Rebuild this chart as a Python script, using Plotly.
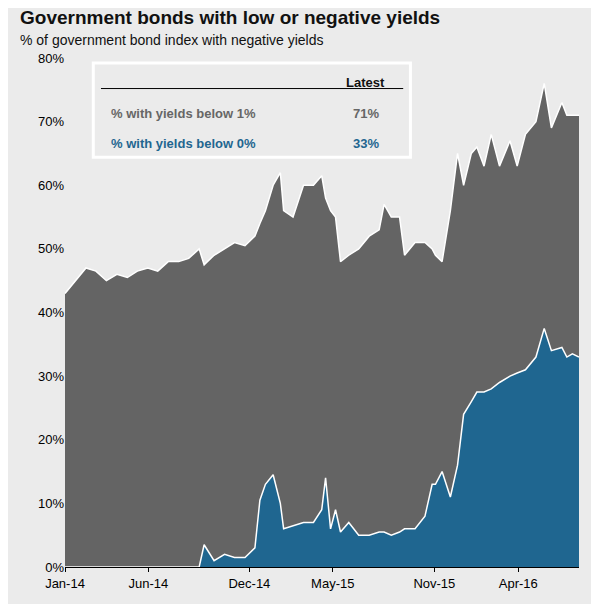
import plotly.graph_objects as go

dates = ["2014-01-01","2014-01-20","2014-02-08","2014-02-26","2014-03-17","2014-04-05","2014-04-24",
         "2014-05-12","2014-05-31","2014-06-18","2014-07-07","2014-07-26","2014-08-13","2014-09-01",
         "2014-09-10","2014-09-28","2014-10-17","2014-11-04","2014-11-23","2014-12-11","2014-12-20",
         "2014-12-30","2015-01-13","2015-01-26","2015-02-01","2015-02-18","2015-03-09","2015-03-27",
         "2015-04-11","2015-04-18","2015-04-27","2015-05-06","2015-05-15","2015-05-30","2015-06-17",
         "2015-07-06","2015-07-24","2015-08-02","2015-08-15","2015-08-30","2015-09-08","2015-09-27",
         "2015-10-15","2015-10-28","2015-11-03","2015-11-15","2015-11-30","2015-12-13","2015-12-24",
         "2016-01-07","2016-01-17","2016-01-30","2016-02-12","2016-02-27","2016-03-17","2016-03-30",
         "2016-04-14","2016-05-03","2016-05-18","2016-05-31","2016-06-19","2016-06-28","2016-07-08",
         "2016-07-20"]
below_1 = [43,45,47,46.5,45,46,45.5,46.5,47,46.5,48,48,48.5,50,47.5,49,50,51,50.5,52,54,56,60,62,56,55,
           60,60,61.5,58,56,55,48,49,50,52,53,57,55,55,49,51,51,50,49,48,56,65,60,65,66,63,68,63,67,63,
           68,70,76,69,73,71,71,71]
below_0 = [0,0,0,0,0,0,0,0,0,0,0,0,0,0,3.5,1,2,1.5,1.5,3,10.5,13,14.5,10,6,6.5,7,7,9,14,6,9,5.5,7,5,5,
           5.5,5.5,5,5.5,6,6,8,13,13,15,11,16,24,26,27.5,27.5,28,29,30,30.5,31,33,37.5,34,34.5,33,33.5,33]
tick_dates = ["2014-01-01","2014-06-01","2014-12-01","2015-05-01","2015-11-01","2016-04-01"]
tick_text = ["Jan-14","Jun-14","Dec-14","May-15","Nov-15","Apr-16"]
y_ticks = [0,10,20,30,40,50,60,70,80]

bg = "#ebebeb"
fig = go.Figure()
fig.add_trace(go.Scatter(x=dates, y=below_1, fill="tozeroy", mode="lines",
                         line=dict(color="white", width=1.5), fillcolor="#646464"))
fig.add_trace(go.Scatter(x=dates, y=below_0, fill="tozeroy", mode="lines",
                         line=dict(color="white", width=1.5), fillcolor="#1f6690"))

fig.update_layout(
    width=599, height=604, paper_bgcolor=bg, plot_bgcolor=bg, showlegend=False,
    margin=dict(l=57, r=28, t=50, b=45),
    font=dict(family="Liberation Sans, Arial", color="#222", size=13),
    xaxis=dict(range=["2014-01-01","2016-07-20"], tickvals=tick_dates, ticktext=tick_text,
               showgrid=False, showline=True, linecolor="black", ticks="outside", ticklen=4,
               tickcolor="black", tickfont=dict(size=13, color="black")),
    yaxis=dict(range=[0,80], tickvals=y_ticks, ticktext=[f"{v}%" for v in y_ticks],
               showgrid=False, zeroline=False, tickfont=dict(size=13, color="black")),
)
fig.add_annotation(x=0.03, y=1.0, xref="paper", yref="paper", xanchor="left", yanchor="top",
                   xshift=-65+3, yshift=58-5,
                   text="<b>Government bonds with low or negative yields</b>", showarrow=False,
                   font=dict(size=19, color="#111"))
fig.add_annotation(x=0, y=1.0, xref="paper", yref="paper", xanchor="left", yanchor="top",
                   xshift=-65+18, yshift=58-30, text="% of government bond index with negative yields",
                   showarrow=False, font=dict(size=14, color="#111"))
# table box
fig.add_shape(type="rect", xref="paper", yref="paper", x0=0.055, x1=0.672, y0=0.805, y1=0.99,
              line=dict(color="white", width=3), fillcolor=bg)
fig.add_shape(type="line", xref="paper", yref="paper", x0=0.07, x1=0.658, y0=0.94, y1=0.94,
              line=dict(color="black", width=1))
fig.add_annotation(x=0.585, y=0.97, xref="paper", yref="paper", text="<b>Latest</b>", showarrow=False,
                   font=dict(size=13, color="#111"))
fig.add_annotation(x=0.085, y=0.91, xref="paper", yref="paper", xanchor="left",
                   text="<b>% with yields below 1%</b>", showarrow=False, font=dict(size=13, color="#666"))
fig.add_annotation(x=0.585, y=0.91, xref="paper", yref="paper", text="<b>71%</b>", showarrow=False,
                   font=dict(size=13, color="#666"))
fig.add_annotation(x=0.085, y=0.85, xref="paper", yref="paper", xanchor="left",
                   text="<b>% with yields below 0%</b>", showarrow=False, font=dict(size=13, color="#1f6690"))
fig.add_annotation(x=0.585, y=0.85, xref="paper", yref="paper", text="<b>33%</b>", showarrow=False,
                   font=dict(size=13, color="#1f6690"))
fig.write_html("out.html")
